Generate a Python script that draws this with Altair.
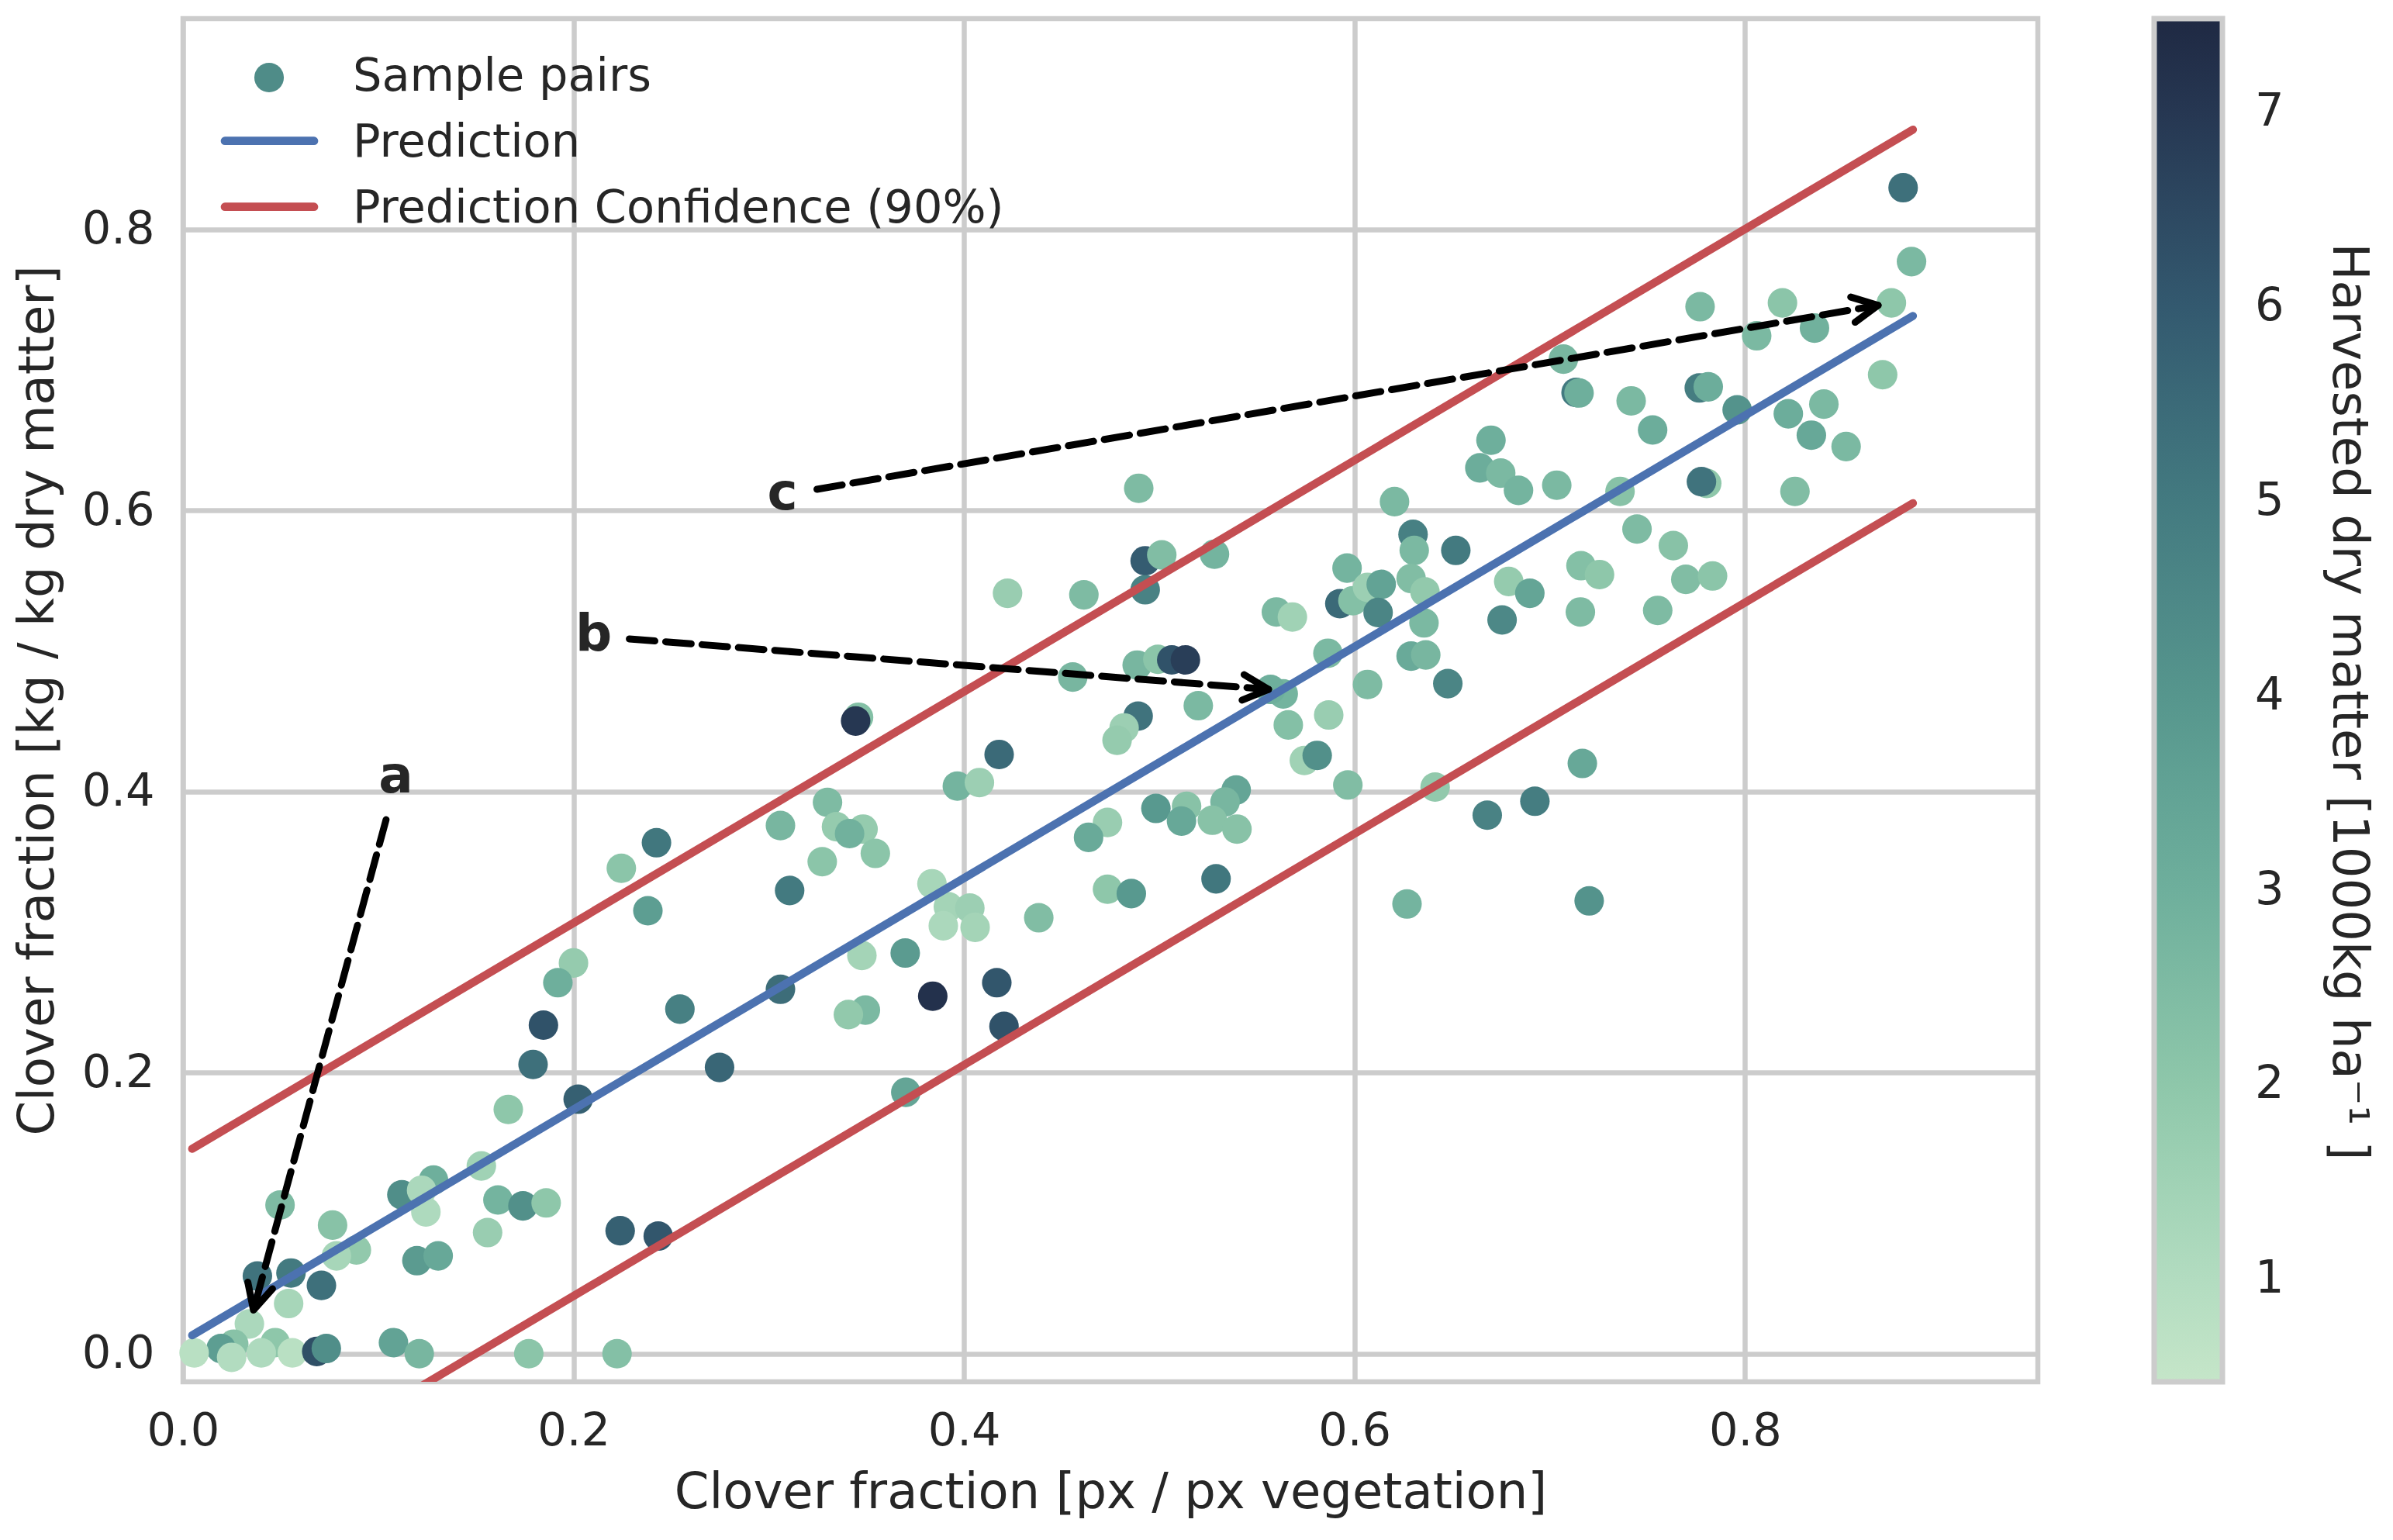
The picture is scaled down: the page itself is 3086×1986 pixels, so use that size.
import math
import altair as alt
import pandas as pd

# ---------------- data ----------------
clover_px = [
    0.200, 0.192, 0.1846, 0.1793, 0.2545, 0.2748, 0.2024, 0.1666, 0.1528, 0.0497,
    0.0766, 0.0888, 0.0786, 0.1121, 0.1283, 0.1222, 0.1244, 0.1613, 0.1741, 0.186,
    0.156, 0.2239, 0.2434, 0.1198, 0.1307, 0.0381, 0.0553, 0.0709, 0.0541, 0.034,
    0.0472, 0.026, 0.0195, 0.0057, 0.0249, 0.0401, 0.056, 0.0685, 0.0734, 0.1078,
    0.121, 0.1771, 0.2223, 0.306,
    0.2425, 0.2245, 0.2381, 0.306, 0.3107,
    0.346, 0.3445, 0.418, 0.3966, 0.4079, 0.3301, 0.3347, 0.3483, 0.3414, 0.3546,
    0.3274, 0.3836, 0.392, 0.3894, 0.403, 0.4057, 0.4383, 0.3477, 0.3699, 0.384,
    0.4168, 0.4205, 0.3495, 0.3408, 0.3702,
    0.4895, 0.6205, 0.4928, 0.5013, 0.5283, 0.4928, 0.4223, 0.4614, 0.4557, 0.4887,
    0.4993, 0.5064, 0.5134, 0.520, 0.4892, 0.482, 0.4784, 0.560, 0.5682, 0.5635,
    0.557, 0.5864, 0.5661, 0.5868, 0.5743, 0.5809, 0.5966, 0.5925, 0.5962, 0.5992,
    0.6067, 0.6137, 0.6121, 0.6067, 0.630, 0.6306, 0.6519, 0.629, 0.6361, 0.6356,
    0.629, 0.6365, 0.6478, 0.679, 0.6898, 0.6756, 0.716, 0.7255, 0.7157, 0.7167,
    0.6924, 0.668, 0.6413, 0.6269, 0.7202, 0.5394, 0.5337, 0.514, 0.4983, 0.5114,
    0.5272, 0.5398, 0.4735, 0.4638, 0.5291, 0.4735, 0.4857,
    0.881, 0.8853, 0.875, 0.8192, 0.777, 0.8356, 0.806, 0.707, 0.7135, 0.715,
    0.7766, 0.7812, 0.7417, 0.796, 0.7527, 0.8222, 0.8404, 0.834, 0.8518, 0.8705,
    0.6699, 0.6642, 0.6749, 0.684, 0.7036, 0.736, 0.7804, 0.7777, 0.8256, 0.7447,
    0.7633, 0.7697, 0.7834, 0.7553,
]
clover_kg = [
    0.278, 0.264, 0.2338, 0.2058, 0.2452, 0.2037, 0.1811, 0.1738, 0.1336, 0.1058,
    0.0915, 0.0738, 0.0696, 0.1131, 0.1236, 0.1163, 0.1009, 0.1094, 0.1052, 0.1073,
    0.0862, 0.0875, 0.0837, 0.0662, 0.0696, 0.0553, 0.0574, 0.0486, 0.0357, 0.0212,
    0.0079, 0.0068, 0.0037, 0.0006, -0.0026, 0.0006, 0.0006, 0.0016, 0.0037, 0.0079,
    0.0, 0.0, 0.0, 0.2593,
    0.3636, 0.3454, 0.3152, 0.3758, 0.3296,
    0.4529, 0.4502, 0.4264, 0.4039, 0.4064, 0.3923, 0.375, 0.3733, 0.3701, 0.356,
    0.3501, 0.3344, 0.318, 0.3045, 0.3171, 0.3034, 0.3102, 0.2834, 0.2851, 0.2544,
    0.264, 0.2329, 0.2445, 0.2413, 0.186,
    0.6158, 0.6063, 0.5642, 0.5684, 0.5689, 0.5436, 0.5411, 0.540, 0.4815, 0.490,
    0.4941, 0.4937, 0.4937, 0.4611, 0.4537, 0.4453, 0.4365, 0.5278, 0.5242, 0.4695,
    0.4727, 0.4984, 0.4474, 0.4545, 0.4221, 0.4257, 0.4047, 0.5337, 0.559, 0.5358,
    0.5453, 0.5474, 0.5274, 0.4762, 0.583, 0.5716, 0.5716, 0.5516, 0.5421, 0.520,
    0.4964, 0.4972, 0.4768, 0.5495, 0.5411, 0.5221, 0.5607, 0.5544, 0.5278, 0.420,
    0.3931, 0.3832, 0.4032, 0.320, 0.3222, 0.4011, 0.3926, 0.3895, 0.388, 0.379,
    0.3796, 0.3733, 0.378, 0.3674, 0.3379, 0.3305, 0.3274,
    0.8297, 0.7771, 0.7477, 0.7477, 0.745, 0.7298, 0.7243, 0.7077, 0.684, 0.6836,
    0.6872, 0.688, 0.678, 0.6716, 0.6573, 0.6688, 0.6757, 0.6536, 0.6455, 0.6966,
    0.650, 0.6303, 0.6266, 0.6143, 0.618, 0.6136, 0.6193, 0.6205, 0.6136, 0.5868,
    0.575, 0.551, 0.5534, 0.5289,
]
harvest = [
    1.8, 3.0, 6.2, 5.3, 4.8, 5.6, 5.8, 2.0, 1.5, 2.5,
    2.2, 1.9, 1.3, 4.3, 3.0, 1.2, 1.1, 2.8, 4.2, 2.0,
    1.7, 5.8, 6.1, 3.8, 3.3, 5.2, 5.0, 5.3, 1.3, 1.2,
    2.0, 2.2, 3.7, 0.8, 1.0, 1.1, 0.8, 6.3, 4.3, 3.5,
    2.7, 2.1, 2.3, 5.4,
    5.1, 2.1, 3.7, 2.7, 5.0,
    2.3, 7.0, 5.5, 2.8, 1.6, 2.5, 1.8, 1.8, 2.9, 2.1,
    2.1, 1.3, 1.4, 1.2, 1.6, 1.4, 2.4, 1.4, 3.8, 7.2,
    6.1, 6.2, 2.6, 1.9, 3.4,
    2.5, 2.6, 5.9, 2.4, 2.8, 4.7, 1.7, 2.5, 2.7, 2.7,
    2.1, 6.2, 6.8, 2.6, 5.2, 1.6, 1.8, 2.6, 1.5, 2.8,
    3.0, 2.6, 2.3, 1.7, 1.5, 4.2, 2.4, 5.5, 2.8, 2.3,
    1.6, 3.5, 4.6, 2.5, 4.8, 2.6, 5.0, 2.4, 1.9, 2.6,
    3.2, 2.7, 4.6, 1.8, 3.4, 4.5, 2.3, 2.0, 2.5, 3.3,
    4.9, 4.7, 1.9, 2.8, 4.1, 3.4, 2.7, 2.2, 3.9, 3.3,
    2.2, 2.2, 1.7, 3.2, 5.1, 2.0, 3.9,
    5.3, 2.6, 2.0, 2.1, 2.6, 2.9, 2.6, 2.7, 5.0, 3.0,
    4.9, 3.1, 2.6, 4.1, 3.1, 3.1, 2.6, 3.3, 2.6, 2.0,
    3.0, 3.1, 2.6, 2.8, 2.6, 2.2, 2.0, 5.2, 2.4, 2.5,
    2.2, 2.4, 2.1, 2.5,
]

# regression line and 90% band (end points)
line_x = [0.0047, 0.886]
pred_y = [0.0131, 0.7384]
upper_y = [0.1458, 0.871]
lower_y = [-0.1196, 0.6052]

# annotations a, b, c
ann_label = ["a", "b", "c"]
ann_x = [0.109, 0.2103, 0.307]
ann_y = [0.3995, 0.5003, 0.601]
arrow_x0 = [0.104, 0.2286, 0.3247]
arrow_y0 = [0.380, 0.5086, 0.6151]
arrow_x1 = [0.0361, 0.556, 0.8682]
arrow_y1 = [0.031, 0.4727, 0.746]

legend_labels = ["Sample pairs", "Prediction", "Prediction Confidence (90%)"]

axis_ticks = [0.0, 0.2, 0.4, 0.6, 0.8]
cbar_ticks = [1, 2, 3, 4, 5, 6, 7]
cbar_domain = [0.47, 1, 2, 3, 4, 5, 6, 7, 7.48]
cbar_colors = ["#c5e6c9", "#b2dcc0", "#8ec7aa", "#6eaf9c", "#56968d",
               "#437a80", "#33596f", "#263752", "#1f2943"]

# ---------------- styling ----------------
W, H = 2392, 1758
XDOM = [0.0, 0.95]
YDOM = [-0.02, 0.95]
FONT = "DejaVu Sans"
TXT = "#262626"
BLUE = "#4c72b0"
RED = "#c44e52"

xs = alt.Scale(domain=XDOM, nice=False, zero=False)
ys = alt.Scale(domain=YDOM, nice=False, zero=False)
x_axis = alt.Axis(title="Clover fraction [px / px vegetation]", values=axis_ticks,
                  format=".1f", labelPadding=34, titlePadding=18, labelFlush=False)
y_axis = alt.Axis(title="Clover fraction [kg / kg dry matter]", values=axis_ticks,
                  format=".1f", labelPadding=37, titlePadding=24, labelFlush=False)


def X(f):
    return alt.X(f, type="quantitative", scale=xs, axis=x_axis)


def Y(f):
    return alt.Y(f, type="quantitative", scale=ys, axis=y_axis)


pts = pd.DataFrame({"cx": clover_px, "cy": clover_kg, "h": harvest})

points = alt.Chart(pts).mark_circle(size=1452, opacity=1).encode(
    x=X("cx"),
    y=Y("cy"),
    color=alt.Color(
        "h:Q",
        scale=alt.Scale(domain=cbar_domain, range=cbar_colors, interpolate="rgb", clamp=True),
        legend=alt.Legend(
            title="Harvested dry matter [1000kg ha⁻¹ ]",
            orient="right", offset=150, padding=0, direction="vertical",
            values=cbar_ticks, format="d",
            gradientLength=H, gradientThickness=88,
            gradientStrokeColor="#cccccc", gradientStrokeWidth=7,
            labelFont=FONT, labelFontSize=59, labelColor=TXT, labelOffset=42,
            titleOrient="right", titleFont=FONT, titleFontSize=64,
            titleFontWeight="normal", titleColor=TXT, titlePadding=50,
            titleAnchor="middle", titleLimit=2000,
        ),
    ),
)

pred_df = pd.DataFrame({"lx": line_x, "ly": pred_y})
band_df = pd.DataFrame({"lx": line_x + line_x, "ly": upper_y + lower_y,
                        "side": ["upper"] * 2 + ["lower"] * 2})

pred_line = alt.Chart(pred_df).mark_line(color=BLUE, strokeWidth=10.5, strokeCap="round",
                                         clip=True).encode(x=X("lx"), y=Y("ly"))
band_lines = alt.Chart(band_df).mark_line(color=RED, strokeWidth=10.5, strokeCap="round",
                                          clip=True).encode(x=X("lx"), y=Y("ly"),
                                                            detail="side:N")

# arrow head angles in screen space
px_per_x = W / (XDOM[1] - XDOM[0])
px_per_y = H / (YDOM[1] - YDOM[0])
angles = []
for x0, y0, x1, y1 in zip(arrow_x0, arrow_y0, arrow_x1, arrow_y1):
    dx = (x1 - x0) * px_per_x
    dy = -(y1 - y0) * px_per_y
    angles.append(math.degrees(math.atan2(dy, dx)) % 360)

arr_df = pd.DataFrame({"x0": arrow_x0, "y0": arrow_y0, "x1": arrow_x1, "y1": arrow_y1,
                       "ang": angles})
arrows = alt.Chart(arr_df).mark_rule(color="black", strokeWidth=9, strokeDash=[33, 14],
                                     strokeCap="round").encode(
    x=X("x0"), y=Y("y0"), x2="x1", y2="y1")
heads = alt.Chart(arr_df).mark_point(shape="M-1,-0.5L0,0L-1,0.5", size=4356, filled=False,
                                     stroke="black", strokeWidth=9, strokeCap="round",
                                     strokeJoin="round", opacity=1).encode(
    x=X("x1"), y=Y("y1"), angle=alt.Angle("ang:Q", scale=None))

ann_df = pd.DataFrame({"tx": ann_x, "ty": ann_y, "lab": ann_label})
ann_text = alt.Chart(ann_df).mark_text(font=FONT, fontSize=66, fontWeight="bold", color=TXT,
                                       align="center", baseline="alphabetic").encode(
    x=X("tx"), y=Y("ty"), text="lab:N")

# legend (upper left, inside the plot)
one = pd.DataFrame({"k": [0]})
leg_pt = alt.Chart(one).mark_circle(size=1452, color="#4f8c88", opacity=1).encode(
    x=alt.value(111), y=alt.value(76))
leg_blue = alt.Chart(one).mark_rule(color=BLUE, strokeWidth=10.7, strokeCap="round").encode(
    x=alt.value(54), x2=alt.value(169), y=alt.value(157.7))
leg_red = alt.Chart(one).mark_rule(color=RED, strokeWidth=10.7, strokeCap="round").encode(
    x=alt.value(54), x2=alt.value(169), y=alt.value(242.7))
leg_texts = []
for lab, yy in zip(legend_labels, [92.7, 177.7, 262.7]):
    leg_texts.append(
        alt.Chart(one).mark_text(font=FONT, fontSize=59, color=TXT, align="left",
                                 baseline="alphabetic").encode(
            x=alt.value(219), y=alt.value(yy), text=alt.value(lab)))

chart = alt.layer(
    points, pred_line, band_lines, arrows, heads, ann_text,
    leg_pt, leg_blue, leg_red, *leg_texts
).properties(
    width=W, height=H,
    autosize=alt.AutoSizeParams(type="none"),
    padding={"left": 228, "top": 16, "right": 440, "bottom": 186},
    background="white",
).configure_view(
    stroke="#cccccc", strokeWidth=6.5
).configure_axis(
    grid=True, gridColor="#cccccc", gridWidth=6.5, domain=False, ticks=False,
    labelFont=FONT, labelFontSize=59, labelColor=TXT,
    titleFont=FONT, titleFontSize=64, titleFontWeight="normal", titleColor=TXT,
)

chart.save("out.html", embed_options={"renderer": "svg", "actions": False})
